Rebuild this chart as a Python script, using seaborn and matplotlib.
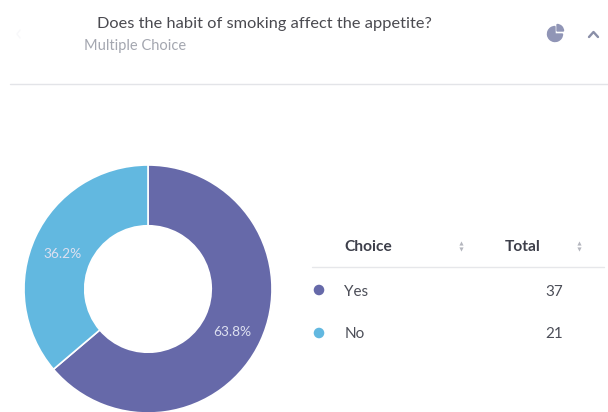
import matplotlib
matplotlib.use("Agg")
import matplotlib.pyplot as plt
import pandas as pd
import seaborn as sns
from matplotlib.patches import Wedge

choices = ["Yes", "No"]
totals = [37, 21]
slice_colors = ["#6669A9", "#62B8E0"]
question = "Does the habit of smoking affect the appetite?"
question_type = "Multiple Choice"
headers = ["Choice", "Total"]

sns.set_theme(style="white")
plt.rcParams["font.family"] = ["Lato", "Open Sans", "DejaVu Sans"]

W, H = 608, 412
fig = plt.figure(figsize=(W / 100, H / 100), dpi=100, facecolor="white")

# Donut, drawn clockwise from twelve o'clock
cx, cy, r = 148, 289, 124
pie_ax = fig.add_axes([(cx - r) / W, 1 - (cy + r) / H, 2 * r / W, 2 * r / H])
wedges, _, pct_texts = pie_ax.pie(
    totals,
    colors=slice_colors,
    startangle=90,
    counterclock=False,
    radius=1,
    autopct="%.1f%%",
    pctdistance=0.752,
    wedgeprops=dict(width=0.49, edgecolor="white", linewidth=1.2),
    textprops=dict(color="#DDE0F0", fontsize=9.9),
)
for label in pct_texts:
    x, y = label.get_position()
    label.set_position((x - 0.005, y - 0.03))
pie_ax.set_xlim(-1, 1)
pie_ax.set_ylim(-1, 1)
pie_ax.set_aspect("equal")
pie_ax.axis("off")
for w in wedges:
    w.set_clip_on(False)

# Overlay in pixel coordinates for the header and the table
ax = fig.add_axes([0, 0, 1, 1], facecolor="none")
ax.set_xlim(0, W)
ax.set_ylim(H, 0)
ax.axis("off")

ax.text(97, 23.5, question, fontsize=11.8, color="#4A4A50", va="center")
ax.text(84, 45.5, question_type, fontsize=10.5, color="#A4A7B0", va="center")
ax.plot([10, 608], [84, 84], color="#E3E4E8", lw=1)

# Header icons: small pie and collapse chevron
icon = "#9095B6"
ax.add_patch(Wedge((555, 34), 7.5, 0, 270, color=icon))
ax.add_patch(Wedge((557, 31), 6.5, 270, 360, color=icon))
ax.plot([589, 593.5, 598], [37, 32, 37], color="#8A8FA8", lw=1.7)
ax.plot([20, 17, 20], [30, 34, 38], color="#F8F8FA", lw=1)

# Table
header_color = "#3D3F4A"
ax.text(344.5, 247, headers[0], fontsize=11.2, fontweight="bold", color=header_color, va="center")
ax.text(505, 247, headers[1], fontsize=11.2, fontweight="bold", color=header_color, va="center")
ax.plot([312, 604], [267, 267], color="#E6E7EA", lw=1)

for sx in (461, 579):
    ax.scatter([sx], [243], marker="^", s=9, color="#B4B6BE", linewidths=0)
    ax.scatter([sx], [249], marker="v", s=9, color="#B4B6BE", linewidths=0)

table = pd.DataFrame({"choice": choices, "total": totals, "row_y": [290, 333]})
sns.scatterplot(
    data=table, x=[319] * len(table), y="row_y", hue="choice",
    palette=slice_colors, s=58, linewidth=0, legend=False, ax=ax,
)
ax.set_xlim(0, W)
ax.set_ylim(H, 0)
ax.axis("off")
for _, row in table.iterrows():
    ax.text(344.5, row.row_y + 1.5, row.choice, fontsize=11, color="#4C4E58", va="center")
    ax.text(563.5, row.row_y + 1.5, str(row.total), fontsize=11, color="#4C4E58", va="center", ha="right")

fig.savefig("out.png", dpi=100, facecolor="white")
